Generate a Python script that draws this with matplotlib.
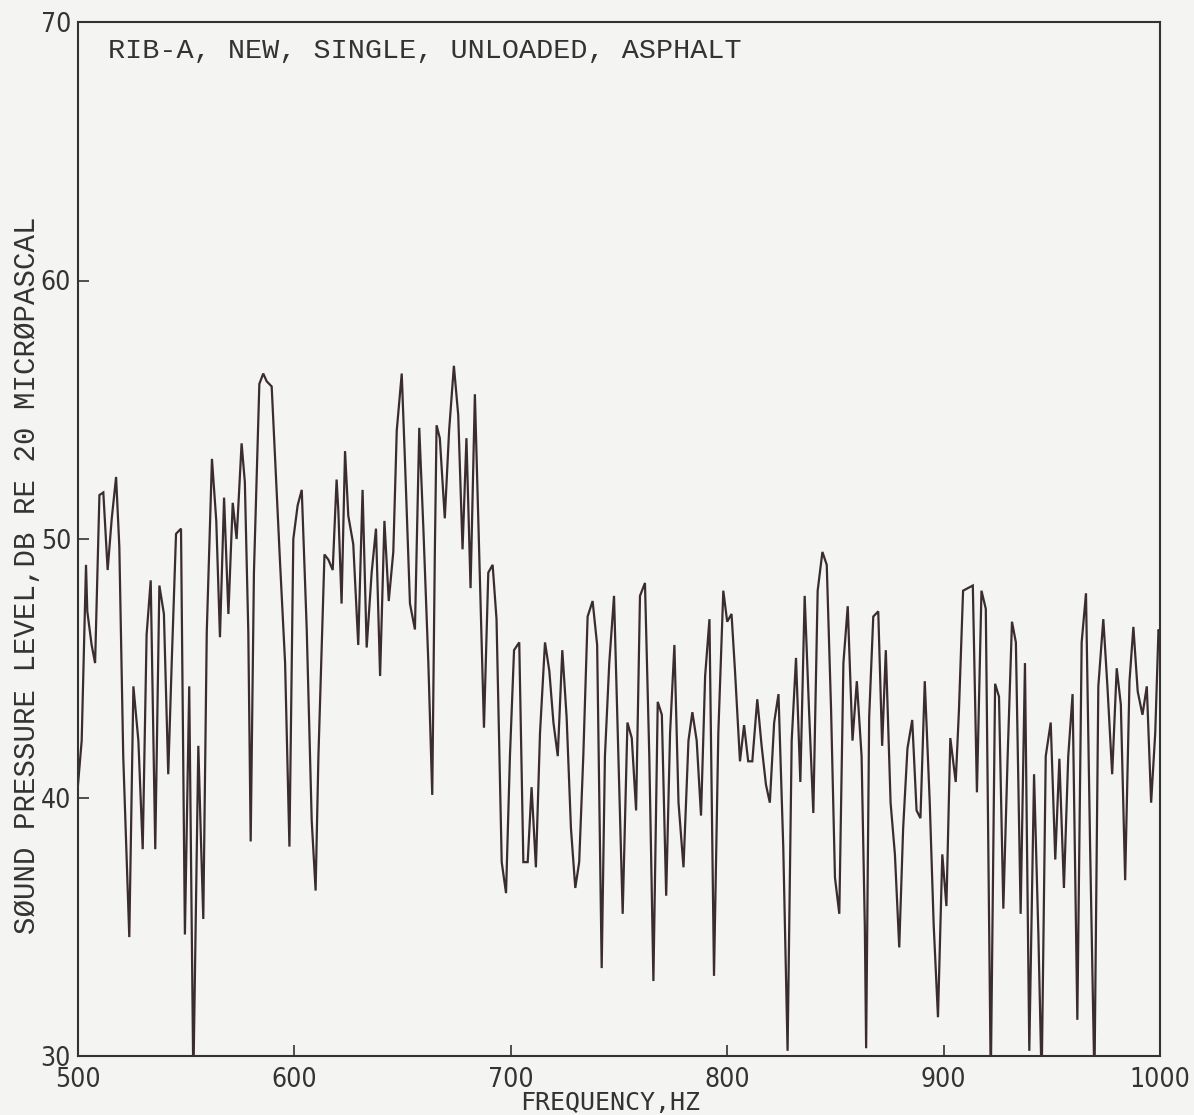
import matplotlib
matplotlib.use("Agg")
import matplotlib.pyplot as plt

freq_hz = [500.0, 501.7, 503.7, 504.3, 506.3, 507.9, 509.9, 511.7, 513.7, 515.6, 517.6, 519.1, 520.9,
           523.7, 525.6, 527.9, 529.9, 531.7, 533.6, 535.7, 537.6, 539.7, 541.7, 543.3, 545.3, 547.6,
           549.4, 551.4, 553.3, 555.6, 556.8, 557.9, 559.5, 561.9, 563.9, 565.6, 567.5, 569.5, 571.5,
           573.3, 575.6, 577.1, 578.7, 579.8, 581.3, 583.8, 585.6, 587.2, 589.5, 593.3, 595.7, 597.7,
           599.5, 601.5, 603.4, 605.7, 608.0, 609.8, 611.1, 613.9, 615.7, 617.7, 619.5, 620.3, 621.8,
           623.4, 624.9, 627.2, 629.5, 631.5, 633.4, 635.7, 637.7, 639.6, 641.6, 643.6, 645.7, 647.3,
           649.6, 651.1, 653.4, 655.7, 657.7, 659.6, 661.9, 663.7, 664.9, 665.7, 667.2, 669.5, 671.5,
           673.7, 675.7, 677.7, 679.5, 681.4, 683.4, 685.4, 687.6, 689.6, 691.6, 693.4, 695.8, 697.8,
           699.6, 701.5, 703.9, 705.8, 707.8, 709.6, 711.6, 713.5, 715.8, 717.8, 719.7, 721.7, 723.8,
           725.8, 727.8, 729.8, 731.6, 733.5, 735.5, 737.8, 739.9, 742.0, 743.5, 745.5, 747.7, 749.7,
           751.7, 753.9, 755.9, 757.9, 759.7, 762.0, 764.0, 765.9, 767.9, 769.8, 771.8, 773.6, 775.6,
           777.5, 779.8, 782.1, 783.9, 785.9, 787.9, 789.8, 791.8, 793.9, 795.9, 798.2, 800.0, 802.0,
           803.6, 805.9, 807.8, 809.7, 811.6, 813.9, 815.9, 817.9, 819.7, 821.7, 823.7, 825.9, 827.9,
           829.8, 831.8, 833.8, 835.8, 837.8, 839.8, 841.8, 844.0, 846.0, 848.0, 849.8, 851.8, 853.7,
           855.7, 857.9, 859.9, 862.1, 863.6, 864.2, 865.6, 867.5, 869.8, 871.6, 873.3, 875.5, 877.5,
           879.5, 881.3, 883.3, 885.5, 887.5, 889.3, 891.3, 893.6, 895.4, 897.4, 899.4, 901.3, 903.1,
           905.6, 907.1, 909.0, 911.2, 913.5, 915.4, 917.5, 919.5, 921.8, 923.8, 925.6, 927.6, 929.6,
           931.6, 933.4, 935.6, 937.6, 939.6, 941.8, 943.8, 945.3, 947.2, 949.5, 951.6, 953.5, 955.6,
           957.6, 959.6, 961.8, 963.8, 965.8, 967.7, 969.7, 971.5, 973.8, 975.7, 977.9, 980.0, 981.9,
           983.9, 985.9, 987.7, 989.7, 991.9, 993.9, 995.9, 997.8, 999.3, 1000.0]

level_db = [40.5, 42.2, 49.0, 47.2, 45.9, 45.2, 51.7, 51.8, 48.8, 50.8, 52.4, 49.7, 41.6,
            34.6, 44.3, 42.2, 38.0, 46.3, 48.4, 38.0, 48.2, 47.1, 40.9, 45.2, 50.2, 50.4,
            34.7, 44.3, 29.0, 42.0, 38.4, 35.3, 46.4, 53.1, 50.7, 46.2, 51.6, 47.1, 51.4,
            50.0, 53.7, 52.2, 46.4, 38.3, 48.7, 56.0, 56.4, 56.1, 55.9, 49.2, 45.2, 38.1,
            50.0, 51.3, 51.9, 46.5, 39.1, 36.4, 41.6, 49.4, 49.2, 48.8, 52.3, 51.1, 47.5,
            53.4, 50.9, 49.8, 45.9, 51.9, 45.8, 48.7, 50.4, 44.7, 50.7, 47.6, 49.5, 54.2,
            56.4, 53.0, 47.5, 46.5, 54.3, 50.4, 45.2, 40.1, 49.5, 54.4, 53.9, 50.8, 54.2,
            56.7, 54.8, 49.6, 53.9, 48.1, 55.6, 49.5, 42.7, 48.7, 49.0, 46.9, 37.5, 36.3,
            41.6, 45.7, 46.0, 37.5, 37.5, 40.4, 37.3, 42.5, 46.0, 44.9, 42.9, 41.6, 45.7,
            43.1, 38.8, 36.5, 37.5, 41.6, 47.0, 47.6, 45.9, 33.4, 41.6, 45.2, 47.8, 41.6,
            35.5, 42.9, 42.3, 39.5, 47.8, 48.3, 41.6, 32.9, 43.7, 43.2, 36.2, 42.5, 45.9,
            39.8, 37.3, 42.2, 43.3, 42.2, 39.3, 44.7, 46.9, 33.1, 42.5, 48.0, 46.8, 47.1,
            44.9, 41.4, 42.8, 41.4, 41.4, 43.8, 42.0, 40.5, 39.8, 42.9, 44.0, 38.1, 30.2,
            42.2, 45.4, 40.6, 47.8, 43.4, 39.4, 48.0, 49.5, 49.0, 43.4, 36.9, 35.5, 45.2,
            47.4, 42.2, 44.5, 41.6, 35.0, 30.3, 43.1, 47.0, 47.2, 42.0, 45.7, 39.8, 37.8,
            34.2, 38.8, 41.9, 43.0, 39.5, 39.2, 44.5, 39.8, 35.1, 31.5, 37.8, 35.8, 42.3,
            40.6, 43.4, 48.0, 48.1, 48.2, 40.2, 48.0, 47.3, 29.0, 44.4, 43.9, 35.7, 41.6,
            46.8, 46.0, 35.5, 45.2, 30.2, 40.9, 34.7, 29.0, 41.6, 42.9, 37.6, 41.5, 36.5,
            41.6, 44.0, 31.4, 46.0, 47.9, 38.1, 29.0, 44.3, 46.9, 44.3, 40.9, 45.0, 43.6,
            36.8, 44.5, 46.6, 44.1, 43.2, 44.3, 39.8, 42.5, 46.5, 46.4]

x_ticks = [500, 600, 700, 800, 900, 1000]
y_ticks = [30, 40, 50, 60, 70]
title_text = "RIB-A, NEW, SINGLE, UNLOADED, ASPHALT"
x_label = "FREQUENCY,HZ"
y_label = "S\u00d8UND PRESSURE LEVEL,DB RE 20 MICR\u00d8PASCAL"

bg = "#f4f4f2"
ink = "#3a2c30"
txt = "#333333"

fig = plt.figure(figsize=(11.94, 11.15), dpi=100, facecolor=bg)
ax = fig.add_axes([78 / 1194, 1 - 1056 / 1115, (1160 - 78) / 1194, (1056 - 22) / 1115])
ax.set_facecolor(bg)
ax.plot(freq_hz, level_db, color=ink, lw=1.6, solid_joinstyle="miter")
ax.set_xlim(500, 1000)
ax.set_ylim(30, 70)
ax.set_xticks(x_ticks)
ax.set_yticks(y_ticks)
tick_font = dict(family="DejaVu Sans", fontstretch="condensed", fontsize=19)
ax.set_xticklabels([str(t) for t in x_ticks], **tick_font, color=txt)
ax.set_yticklabels([str(t) for t in y_ticks], **tick_font, color=txt)
ax.tick_params(axis="x", direction="in", length=8, width=1.2, color=txt, pad=8)
ax.tick_params(axis="y", direction="in", length=8, width=1.2, color=txt, pad=5)
for s in ax.spines.values():
    s.set_color(txt)
    s.set_linewidth(1.5)
ax.set_xlabel(x_label, family="DejaVu Sans Mono", fontsize=18, color=txt, va="center")
ax.xaxis.set_label_coords((610 - 78) / 1082, (1056 - 1103) / 1034)
ax.set_ylabel(y_label, family="Liberation Mono", fontsize=21, color=txt, va="center")
ax.yaxis.set_label_coords((27 - 78) / 1082, (1056 - 575) / 1034)
ax.text((108 - 78) / 1082, (1056 - 51) / 1034, title_text, transform=ax.transAxes,
        family="Liberation Mono", fontsize=20.5, color=txt, va="center", ha="left")
fig.savefig("out.png", dpi=100, facecolor=bg)
